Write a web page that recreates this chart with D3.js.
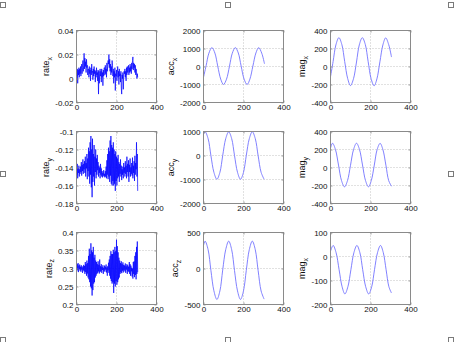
<!DOCTYPE html>
<html>
<head>
<meta charset="utf-8">
<script src="https://cdn.jsdelivr.net/npm/d3@7"></script>
<style>
  body { margin: 0; background: #fff; }
  svg { display: block; }
  text { font-family: Arial, "Liberation Sans", Helvetica, sans-serif; }
</style>
</head>
<body>
<svg id="fig" width="456" height="342"></svg>
<script>
// ---- sensor log: gyro rates (dense samples) ----
const SAMPLE_STEP = 2;
const tRate = d3.range(0, 307, SAMPLE_STEP);

const rateX = [
  0.006, 0.002, 0.008, -0.004, 0.007, 0.003, 0.009, 0.001, 0.008, 0.004,
  0.010, 0.002, 0.007, 0.012, 0.004, 0.009, 0.015, 0.006, 0.011, 0.021,
  0.008, 0.017, 0.010, 0.014, 0.005, 0.016, 0.009, 0.011, 0.003, 0.008,
  0.008, 0.001, 0.010, 0.004, 0.007, -0.002, 0.009, 0.003, 0.012, 0.005,
  0.006, -0.001, 0.008, 0.002, 0.010, 0.004, 0.007, -0.003, 0.006, 0.001,
  0.009, 0.003, 0.005, -0.002, 0.007, -0.013, 0.006, -0.004, 0.004, 0.008,
  0.002, 0.006, -0.003, 0.008, 0.001, 0.005, -0.006, 0.007, 0.002, 0.009,
  0.009, 0.003, 0.011, 0.004, 0.008, 0.001, 0.013, 0.006, 0.010, 0.015,
  0.012, 0.020, 0.009, 0.016, 0.006, 0.012, 0.003, 0.010, 0.005, 0.015,
  0.011, 0.002, 0.008, -0.004, 0.006, 0.001, 0.009, -0.010, 0.004, 0.002,
  0.007, -0.002, 0.005, 0.010, 0.001, 0.006, -0.005, 0.008, 0.002, 0.004,
  -0.003, 0.006, -0.008, -0.013, 0.003, 0.000, 0.005, -0.009, 0.002, 0.006,
  0.004, 0.008, 0.001, 0.006, -0.002, 0.009, 0.003, 0.010, 0.005, 0.007,
  0.011, 0.003, 0.009, 0.005, 0.012, 0.006, 0.010, 0.004, 0.013, 0.008,
  0.015, 0.018, 0.007, 0.013, 0.009, 0.012, 0.005, 0.011, 0.003, 0.008,
  0.006, 0.000, 0.004, 0.001
];

const rateY = [
  -0.140, -0.148, -0.136, -0.152, -0.141, -0.146, -0.138, -0.150, -0.142, -0.147,
  -0.139, -0.145, -0.134, -0.149, -0.137, -0.144, -0.131, -0.147, -0.136, -0.142,
  -0.133, -0.146, -0.128, -0.150, -0.135, -0.141, -0.125, -0.153, -0.130, -0.144,
  -0.118, -0.150, -0.122, -0.158, -0.112, -0.148, -0.105, -0.162, -0.120, -0.173,
  -0.108, -0.156, -0.125, -0.150, -0.115, -0.160, -0.128, -0.145, -0.120, -0.152,
  -0.130, -0.148, -0.126, -0.143, -0.134, -0.150, -0.138, -0.146, -0.140, -0.152,
  -0.136, -0.148, -0.141, -0.150, -0.144, -0.151, -0.146, -0.149, -0.143, -0.150,
  -0.147, -0.151, -0.144, -0.150, -0.139, -0.152, -0.132, -0.148, -0.125, -0.153,
  -0.118, -0.150, -0.122, -0.156, -0.110, -0.149, -0.105, -0.158, -0.115, -0.160,
  -0.118, -0.155, -0.112, -0.160, -0.120, -0.158, -0.125, -0.166, -0.122, -0.155,
  -0.128, -0.160, -0.130, -0.152, -0.126, -0.150, -0.134, -0.156, -0.136, -0.147,
  -0.131, -0.150, -0.138, -0.154, -0.142, -0.148, -0.139, -0.152, -0.135, -0.146,
  -0.140, -0.150, -0.133, -0.147, -0.138, -0.152, -0.128, -0.145, -0.136, -0.150,
  -0.132, -0.156, -0.137, -0.145, -0.130, -0.150, -0.140, -0.147, -0.135, -0.149,
  -0.129, -0.152, -0.138, -0.146, -0.133, -0.155, -0.127, -0.148, -0.135, -0.142,
  -0.112, -0.150, -0.125, -0.166
];

const rateZ = [
  0.300, 0.292, 0.312, 0.296, 0.315, 0.290, 0.308, 0.298, 0.311, 0.294,
  0.305, 0.291, 0.309, 0.297, 0.303, 0.288, 0.306, 0.295, 0.310, 0.292,
  0.307, 0.285, 0.318, 0.290, 0.312, 0.280, 0.322, 0.286, 0.315, 0.275,
  0.335, 0.270, 0.355, 0.262, 0.340, 0.250, 0.370, 0.245, 0.350, 0.225,
  0.345, 0.240, 0.360, 0.258, 0.330, 0.262, 0.338, 0.275, 0.322, 0.280,
  0.318, 0.285, 0.312, 0.288, 0.320, 0.292, 0.310, 0.286, 0.325, 0.290,
  0.306, 0.293, 0.312, 0.288, 0.304, 0.296, 0.309, 0.285, 0.302, 0.294,
  0.308, 0.291, 0.305, 0.297, 0.311, 0.289, 0.303, 0.280, 0.306, 0.295,
  0.316, 0.288, 0.325, 0.280, 0.335, 0.272, 0.348, 0.265, 0.340, 0.258,
  0.340, 0.262, 0.352, 0.232, 0.345, 0.258, 0.360, 0.250, 0.348, 0.265,
  0.380, 0.255, 0.362, 0.262, 0.345, 0.270, 0.330, 0.275, 0.322, 0.285,
  0.315, 0.290, 0.320, 0.287, 0.312, 0.294, 0.317, 0.289, 0.310, 0.296,
  0.308, 0.292, 0.314, 0.288, 0.306, 0.297, 0.312, 0.285, 0.309, 0.293,
  0.305, 0.290, 0.318, 0.285, 0.312, 0.280, 0.308, 0.292, 0.302, 0.278,
  0.300, 0.272, 0.318, 0.285, 0.320, 0.276, 0.335, 0.282, 0.345, 0.270,
  0.360, 0.285, 0.375, 0.290
];

// ---- accelerometer / magnetometer (smooth, sampled at turning points) ----
const tAccX = [0, 13, 27, 42, 57, 71, 86, 100, 115, 130, 144, 159, 174, 188, 203, 218, 232, 247, 262, 276, 291, 305];
const accX  = [-600, 40, 740, 1050, 745, 30, -700, -1000, -705, 20, 740, 1050, 750, 35, -700, -1000, -700, 25, 750, 1045, 745, 150];
const magX  = [-115, 55, 240, 320, 242, 55, -135, -212, -136, 50, 240, 320, 245, 58, -135, -214, -138, 52, 240, 318, 243, 105];

const tAccYZ = [0, 8, 23, 37, 52, 67, 82, 96, 111, 126, 141, 155, 170, 185, 200, 214, 229, 244, 259, 273, 288, 303];
const accY   = [880, 990, 705, 0, -700, -990, -705, -5, 700, 985, 700, 0, -700, -990, -700, 5, 700, 990, 700, 0, -700, -990];
const accZ   = [320, 380, 262, -25, -310, -430, -312, -22, 262, 380, 260, -28, -311, -430, -310, -25, 262, 380, 260, -25, -312, -425];

const tMagY = [0, 10, 25, 40, 55, 70, 85, 100, 115, 130, 145, 160, 175, 190, 204, 219, 233, 248, 262, 277, 291, 305];
const magY  = [215, 270, 198, 27, -145, -215, -146, 25, 198, 270, 200, 28, -145, -215, -145, 27, 198, 268, 199, 26, -146, -208];

const tMagZ = [0, 13, 28, 43, 58, 72, 87, 102, 117, 132, 147, 161, 176, 191, 206, 220, 235, 250, 264, 278, 292, 305];
const magZ  = [22, 46, 16, -55, -126, -156, -126, -55, 16, 46, 16, -55, -126, -156, -126, -55, 16, 46, 16, -55, -126, -152];

// ---- axis ticks ----
const xDomain = [0, 400];
const xTicks = [0, 200, 400];
const ticksRateX = [-0.02, 0, 0.02, 0.04];
const ticksRateY = [-0.18, -0.16, -0.14, -0.12, -0.1];
const ticksRateZ = [0.2, 0.25, 0.3, 0.35, 0.4];
const ticksAccX  = [-2000, -1000, 0, 1000, 2000];
const ticksAccY  = [-2000, -1000, 0, 1000];
const ticksAccZ  = [-500, 0, 500];
const ticksMag   = [-400, -200, 0, 200, 400];
const ticksMagZ  = [-200, -100, 0, 100];

const panels = [
  { row: 0, col: 0, label: "rate", sub: "x", t: tRate,  v: rateX, ticks: ticksRateX, dense: true },
  { row: 0, col: 1, label: "acc",  sub: "x", t: tAccX,  v: accX,  ticks: ticksAccX },
  { row: 0, col: 2, label: "mag",  sub: "x", t: tAccX,  v: magX,  ticks: ticksMag },
  { row: 1, col: 0, label: "rate", sub: "y", t: tRate,  v: rateY, ticks: ticksRateY, dense: true },
  { row: 1, col: 1, label: "acc",  sub: "y", t: tAccYZ, v: accY,  ticks: ticksAccY },
  { row: 1, col: 2, label: "mag",  sub: "y", t: tMagY,  v: magY,  ticks: ticksMag },
  { row: 2, col: 0, label: "rate", sub: "z", t: tRate,  v: rateZ, ticks: ticksRateZ, dense: true },
  { row: 2, col: 1, label: "acc",  sub: "z", t: tAccYZ, v: accZ,  ticks: ticksAccZ },
  { row: 2, col: 2, label: "mag",  sub: "x", t: tMagZ,  v: magZ,  ticks: ticksMagZ }
];

// ---- layout ----
const colLeft = [76.5, 203.5, 330.5];
const rowTop = [30.5, 131.5, 232.5];
const pw = 80, ph = 72;
const boxColor = "#8a8a8a";
const gridColor = "#b4b4b4";

const svg = d3.select("#fig");

panels.forEach(p => {
  const x0 = colLeft[p.col], y0 = rowTop[p.row];
  const g = svg.append("g").attr("transform", `translate(${x0},${y0})`);
  const x = d3.scaleLinear().domain(xDomain).range([0, pw]);
  const y = d3.scaleLinear().domain(d3.extent(p.ticks)).range([ph, 0]);

  // dotted grid at interior ticks
  g.append("g").selectAll("line.gx")
    .data(xTicks.filter(d => d > xDomain[0] && d < xDomain[1]))
    .join("line")
    .attr("x1", d => x(d)).attr("x2", d => x(d))
    .attr("y1", 0).attr("y2", ph)
    .attr("stroke", gridColor).attr("stroke-width", 0.8)
    .attr("stroke-dasharray", "1,2");
  const yd = y.domain();
  g.append("g").selectAll("line.gy")
    .data(p.ticks.filter(d => d > yd[0] && d < yd[1]))
    .join("line")
    .attr("x1", 0).attr("x2", pw)
    .attr("y1", d => y(d)).attr("y2", d => y(d))
    .attr("stroke", gridColor).attr("stroke-width", 0.8)
    .attr("stroke-dasharray", "1,2");

  // data line
  const line = d3.line()
    .x((d, i) => x(p.t[i]))
    .y(d => y(d))
    .curve(p.dense ? d3.curveLinear : d3.curveCatmullRom.alpha(0.5));
  g.append("path")
    .datum(p.v)
    .attr("fill", "none")
    .attr("stroke", p.dense ? "#0000ff" : "#7373ff")
    .attr("stroke-width", p.dense ? 0.7 : 0.9)
    .attr("stroke-linejoin", "round")
    .attr("d", line);

  // axes (inward ticks, mirrored on top/right)
  const axB = g.append("g").attr("transform", `translate(0,${ph})`)
    .call(d3.axisBottom(x).tickValues(xTicks).tickSizeInner(-2).tickSizeOuter(0).tickPadding(2).tickFormat(d => String(d)));
  const axL = g.append("g")
    .call(d3.axisLeft(y).tickValues(p.ticks).tickSizeInner(-2).tickSizeOuter(0).tickPadding(3).tickFormat(d => String(d)));
  const axT = g.append("g")
    .call(d3.axisTop(x).tickValues(xTicks).tickSizeInner(-2).tickSizeOuter(0).tickFormat(""));
  const axR = g.append("g").attr("transform", `translate(${pw},0)`)
    .call(d3.axisRight(y).tickValues(p.ticks).tickSizeInner(-2).tickSizeOuter(0).tickFormat(""));
  [axB, axL, axT, axR].forEach(a => {
    a.select(".domain").remove();
    a.attr("font-size", null).attr("font-family", null);
    a.selectAll(".tick line").attr("stroke", boxColor).attr("stroke-width", 0.8);
    a.selectAll(".tick text").attr("fill", "#111").style("font-size", "8px");
  });

  // axes box
  g.append("rect")
    .attr("x", 0).attr("y", 0).attr("width", pw).attr("height", ph)
    .attr("fill", "none").attr("stroke", boxColor).attr("stroke-width", 1);

  // y label placed left of the widest tick label
  let minX = 0;
  axL.selectAll(".tick text").each(function () {
    const b = this.getBBox();
    minX = Math.min(minX, b.x);
  });
  const lx = minX - 6, ly = ph / 2;
  const lab = g.append("text")
    .attr("transform", `translate(${lx},${ly}) rotate(-90)`)
    .attr("text-anchor", "middle")
    .style("font-size", "9px")
    .attr("fill", "#111");
  lab.append("tspan").text(p.label);
  lab.append("tspan").attr("dy", 2.5).style("font-size", "7px").text(p.sub);
});

// figure selection handles
const handleX = [0.5, 225.5, 448.5];
const handleY = [2.5, 171.5, 337.5];
const handles = [];
handleY.forEach((hy, r) => handleX.forEach((hx, c) => {
  if (!(r === 1 && c === 1)) handles.push([hx, hy]);
}));
svg.append("g").selectAll("rect")
  .data(handles)
  .join("rect")
  .attr("x", d => d[0]).attr("y", d => d[1])
  .attr("width", 5).attr("height", 5)
  .attr("fill", "#fff").attr("stroke", "#7a7a7a").attr("stroke-width", 1);
</script>
</body>
</html>
